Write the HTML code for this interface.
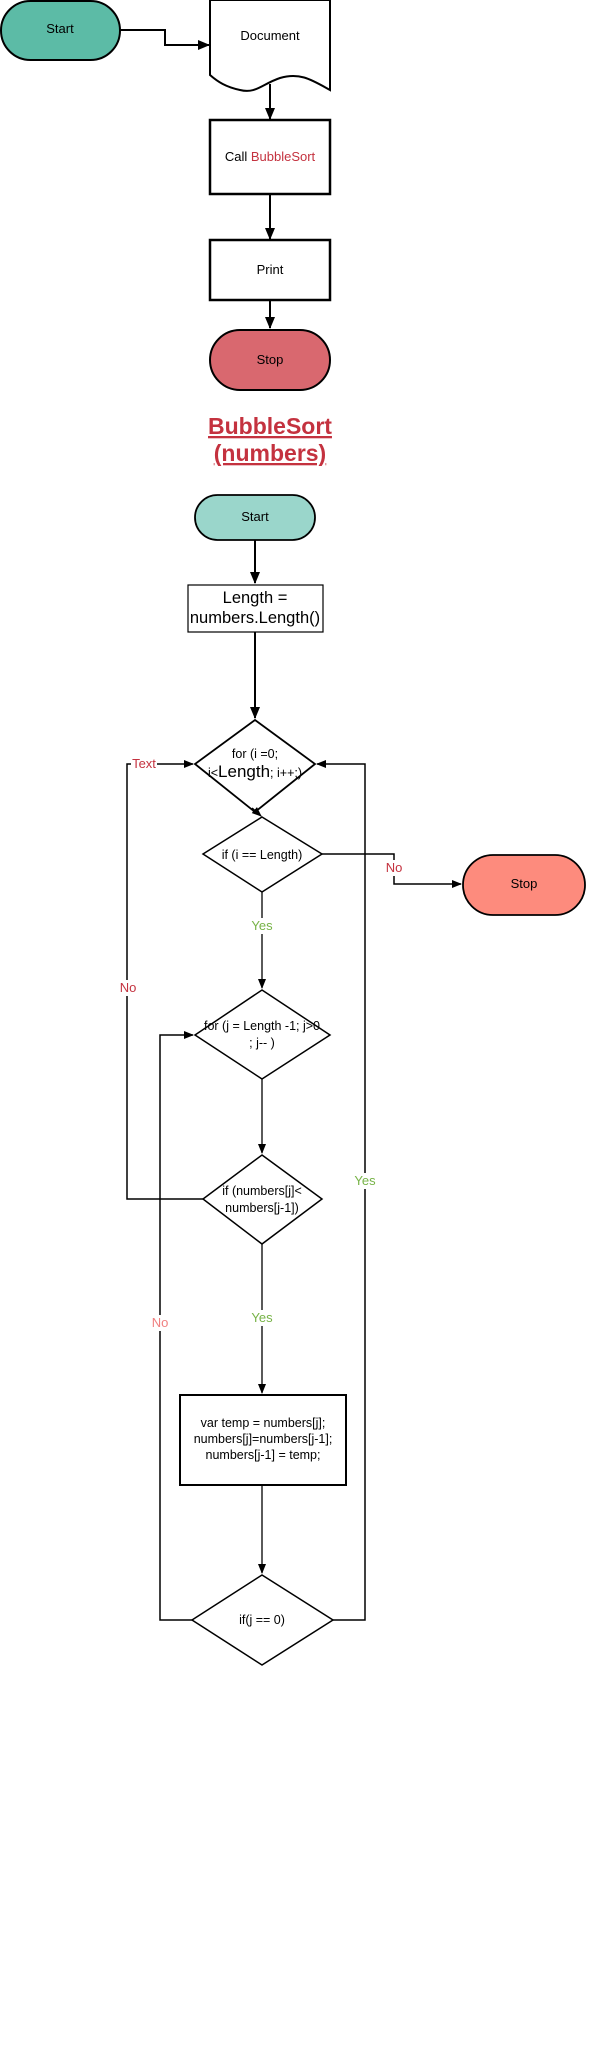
<!DOCTYPE html>
<html><head><meta charset="utf-8"><style>
html,body{margin:0;padding:0;background:#fff;}
svg{display:block;}
text{font-family:"Liberation Sans",Arial,sans-serif;}
</style></head><body>
<svg width="600" height="2064" viewBox="0 0 600 2064" xmlns="http://www.w3.org/2000/svg">
<defs>
<marker id="a" markerWidth="10" markerHeight="10" refX="9" refY="5" orient="auto" markerUnits="userSpaceOnUse">
<path d="M0,1 L10,5 L0,9 Z" fill="#000"/></marker>
<marker id="b" markerWidth="12" markerHeight="12" refX="11" refY="6" orient="auto" markerUnits="userSpaceOnUse">
<path d="M0,1 L12,6 L0,11 Z" fill="#000"/></marker>
</defs>
<g font-size="13" text-anchor="middle" fill="#000">
<rect x="1" y="1" width="119" height="59" rx="29.5" fill="#5cbba6" stroke="#000" stroke-width="2"/>
<text x="60" y="33">Start</text>
<polyline points="120,30 165,30 165,45 209,45" fill="none" stroke="#000" stroke-width="2" marker-end="url(#b)"/>
<path d="M210,0 L330,0 L330,90 C312,80 300,72 280,78 C262,84 256,94 240,90 C226,87 218,82 210,75 Z" fill="#fff" stroke="#000" stroke-width="2"/>
<text x="270" y="40">Document</text>
<line x1="270" y1="84" x2="270" y2="119" stroke="#000" stroke-width="2" marker-end="url(#b)"/>
<rect x="210" y="120" width="120" height="74" fill="#fff" stroke="#000" stroke-width="2.5"/>
<text x="270" y="161">Call <tspan fill="#c4323f">BubbleSort</tspan></text>
<line x1="270" y1="194" x2="270" y2="239" stroke="#000" stroke-width="2" marker-end="url(#b)"/>
<rect x="210" y="240" width="120" height="60" fill="#fff" stroke="#000" stroke-width="2.5"/>
<text x="270" y="274">Print</text>
<line x1="270" y1="300" x2="270" y2="328" stroke="#000" stroke-width="2" marker-end="url(#b)"/>
<rect x="210" y="330" width="120" height="60" rx="30" fill="#d9686f" stroke="#000" stroke-width="2"/>
<text x="270" y="364">Stop</text>
<g font-size="23" font-weight="bold" fill="#c4323f">
<text x="270" y="434" text-decoration="underline">BubbleSort</text>
<text x="270" y="461" text-decoration="underline">(numbers)</text>
</g>

<rect x="195" y="495" width="120" height="45" rx="22.5" fill="#9ad6cb" stroke="#000" stroke-width="1.8"/>
<text x="255" y="521">Start</text>
<line x1="255" y1="540" x2="255" y2="583" stroke="#000" stroke-width="2" marker-end="url(#b)"/>
<rect x="188" y="585" width="135" height="47" fill="#fff" stroke="#000" stroke-width="1.2"/>
<text x="255" y="603" font-size="16.5">Length =</text>
<text x="255" y="623" font-size="16.5">numbers.Length()</text>
<line x1="255" y1="632" x2="255" y2="718" stroke="#000" stroke-width="2" marker-end="url(#b)"/>

<polygon points="255,720 315,764 255,812 195,764" fill="#fff" stroke="#000" stroke-width="1.8"/>
<text x="255" y="758" font-size="12.5">for (i =0;</text>
<text x="255" y="777" font-size="12.5">i&lt;<tspan font-size="17">Length</tspan>; i++;)</text>
<line x1="252" y1="808" x2="261" y2="816" stroke="#000" stroke-width="1.5" marker-end="url(#a)"/>

<polyline points="204,1199 127,1199 127,764 193,764" fill="none" stroke="#000" stroke-width="1.5" marker-end="url(#a)"/>
<rect x="131" y="756" width="26" height="14" fill="#fff"/>
<text x="144" y="768" fill="#c4323f">Text</text>
<rect x="115" y="980" width="26" height="16" fill="#fff"/>
<text x="128" y="992" fill="#c4323f">No</text>

<polyline points="192,1620 160,1620 160,1035 193,1035" fill="none" stroke="#000" stroke-width="1.5" marker-end="url(#a)"/>
<rect x="147" y="1315" width="26" height="16" fill="#fff"/>
<text x="160" y="1327" fill="#f08080">No</text>

<polyline points="333,1620 365,1620 365,764 317,764" fill="none" stroke="#000" stroke-width="1.5" marker-end="url(#a)"/>
<rect x="350" y="1173" width="30" height="16" fill="#fff"/>
<text x="365" y="1185" fill="#77b347">Yes</text>

<polygon points="262,817 322,854 262,892 203,854" fill="#fff" stroke="#000" stroke-width="1.5"/>
<text x="262" y="859" font-size="12.5">if (i == Length)</text>
<polyline points="322,854 394,854 394,884 461,884" fill="none" stroke="#000" stroke-width="1.5" marker-end="url(#a)"/>
<rect x="383" y="860" width="22" height="16" fill="#fff"/>
<text x="394" y="872" fill="#c4323f">No</text>
<rect x="463" y="855" width="122" height="60" rx="30" fill="#fd8b7d" stroke="#000" stroke-width="1.8"/>
<text x="524" y="888">Stop</text>

<line x1="262" y1="892" x2="262" y2="988" stroke="#000" stroke-width="1.3" marker-end="url(#a)"/>
<rect x="248" y="918" width="30" height="16" fill="#fff"/>
<text x="262" y="930" fill="#77b347">Yes</text>

<polygon points="262,990 330,1035 262,1079 195,1035" fill="#fff" stroke="#000" stroke-width="1.5"/>
<text x="262" y="1030" font-size="12.5">for (j = Length -1; j&gt;0</text>
<text x="262" y="1047" font-size="12.5">; j-- )</text>
<line x1="262" y1="1079" x2="262" y2="1153" stroke="#000" stroke-width="1.3" marker-end="url(#a)"/>

<polygon points="262,1155 322,1199 262,1244 203,1199" fill="#fff" stroke="#000" stroke-width="1.5"/>
<text x="262" y="1195" font-size="12.5">if (numbers[j]&lt;</text>
<text x="262" y="1212" font-size="12.5">numbers[j-1])</text>
<line x1="262" y1="1244" x2="262" y2="1393" stroke="#000" stroke-width="1.3" marker-end="url(#a)"/>
<rect x="248" y="1310" width="30" height="16" fill="#fff"/>
<text x="262" y="1322" fill="#77b347">Yes</text>

<rect x="180" y="1395" width="166" height="90" fill="#fff" stroke="#000" stroke-width="2"/>
<text x="263" y="1427" font-size="12.5">var temp = numbers[j];</text>
<text x="263" y="1443" font-size="12.5">numbers[j]=numbers[j-1];</text>
<text x="263" y="1459" font-size="12.5">numbers[j-1] = temp;</text>
<line x1="262" y1="1485" x2="262" y2="1573" stroke="#000" stroke-width="1.3" marker-end="url(#a)"/>

<polygon points="262,1575 333,1620 262,1665 192,1620" fill="#fff" stroke="#000" stroke-width="1.5"/>
<text x="262" y="1624" font-size="12.5">if(j ==  0)</text>
</g>
</svg>
</body></html>
